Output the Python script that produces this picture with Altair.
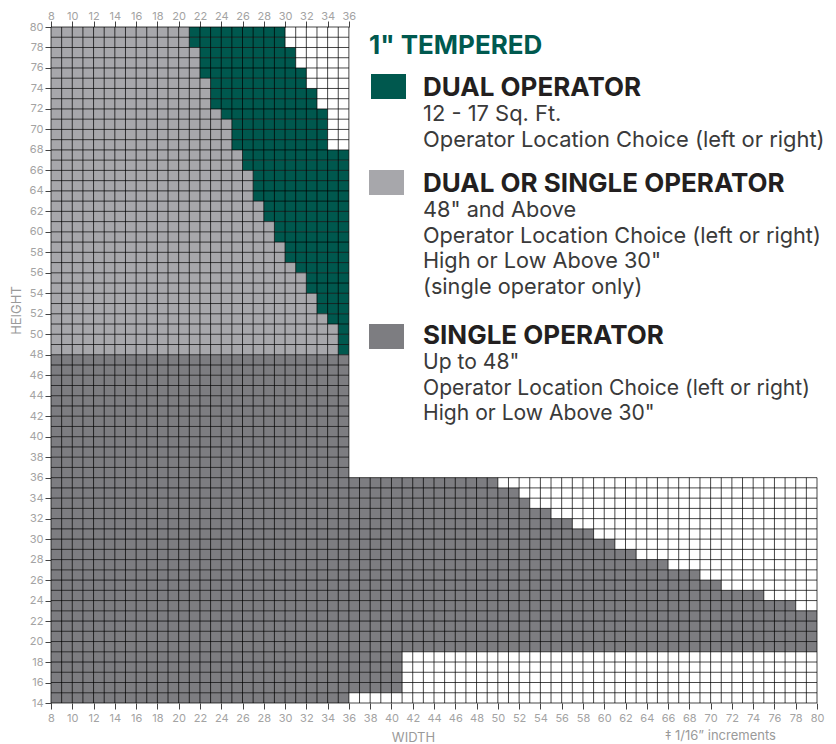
import altair as alt
import pandas as pd

# ---------------- data ----------------
# rows are identified by their lower edge (height), cells are 1" wide / 1" tall
upper_rows = [79, 78, 77, 76, 75, 74, 73, 72, 71, 70, 69, 68, 67, 66, 65, 64,
              63, 62, 61, 60, 59, 58, 57, 56, 55, 54, 53, 52, 51, 50, 49, 48]
# width where "dual or single operator" (light gray) ends in each upper row
light_gray_end = [21, 21, 22, 22, 22, 23, 23, 23, 24, 25, 25, 25, 26, 26, 27, 27,
                  27, 28, 28, 29, 29, 30, 30, 31, 32, 32, 33, 33, 34, 35, 35, 35]
# width where "dual operator" (green) ends in each upper row
green_end = [30, 30, 31, 31, 32, 32, 33, 33, 34, 34, 34, 34, 36, 36, 36, 36,
             36, 36, 36, 36, 36, 36, 36, 36, 36, 36, 36, 36, 36, 36, 36, 36]

lower_rows = [47, 46, 45, 44, 43, 42, 41, 40, 39, 38, 37, 36, 35, 34, 33, 32, 31,
              30, 29, 28, 27, 26, 25, 24, 23, 22, 21, 20, 19, 18, 17, 16, 15, 14]
# width where "single operator" (dark gray) ends in each lower row
dark_gray_end = [36, 36, 36, 36, 36, 36, 36, 36, 36, 36, 36, 36, 50, 52, 53, 55, 57,
                 59, 61, 63, 66, 69, 71, 75, 78, 80, 80, 80, 80, 41, 41, 41, 41, 36]

width_min, width_max = 8, 80
height_min, height_max = 14, 80
grid_split = 36          # grid above this height only reaches this width

x_ticks_bottom = list(range(8, 81, 2))
x_ticks_top = list(range(8, 37, 2))
y_ticks = list(range(14, 81, 2))

categories = ["DUAL OPERATOR", "DUAL OR SINGLE OPERATOR", "SINGLE OPERATOR"]
cat_colors = ["#00584e", "#a7a7ab", "#7d7d81"]

legend_title = "1\" TEMPERED"
legend_body = [
    ["12 - 17 Sq. Ft.", "Operator Location Choice (left or right)"],
    ["48\" and Above", "Operator Location Choice (left or right)",
     "High or Low Above 30\"", "(single operator only)"],
    ["Up to 48\"", "Operator Location Choice (left or right)", "High or Low Above 30\""],
]
footnote = "\u2021 1/16\u201d increments"

# ---------------- build tables ----------------
segs = []
for y, le, ge in zip(upper_rows, light_gray_end, green_end):
    segs.append(dict(x0=width_min, x1=le, y0=y, y1=y + 1, cat=categories[1]))
    segs.append(dict(x0=le, x1=ge, y0=y, y1=y + 1, cat=categories[0]))
for y, de in zip(lower_rows, dark_gray_end):
    segs.append(dict(x0=width_min, x1=de, y0=y, y1=y + 1, cat=categories[2]))
segs_df = pd.DataFrame(segs)

vl = []
for x in range(width_min, width_max + 1):
    vl.append(dict(x=x, y0=height_min, y1=height_max if x <= grid_split else grid_split))
vl_df = pd.DataFrame(vl)
hl = []
for y in range(height_min, height_max + 1):
    hl.append(dict(y=y, x0=width_min, x1=width_max if y <= grid_split else grid_split))
hl_df = pd.DataFrame(hl)

FONT = "Inter"
LABEL_COLOR = "#a3a3a3"
TITLE_COLOR = "#9a9a9a"

xs = alt.Scale(domain=[width_min, width_max], nice=False, zero=False)
ys = alt.Scale(domain=[height_min, height_max], nice=False, zero=False)

common_axis = dict(grid=False, domain=False, labelFont=FONT, labelFontSize=11,
                   labelColor=LABEL_COLOR, tickColor="#444444", tickSize=6,
                   labelFlush=False, labelOverlap=False, format="d")

fills = alt.Chart(segs_df).mark_rect(strokeWidth=0).encode(
    x=alt.X("x0:Q", scale=xs, axis=alt.Axis(orient="bottom", values=x_ticks_bottom,
            title="WIDTH", titleFont=FONT, titleFontSize=13, titleFontWeight="normal",
            titleColor=TITLE_COLOR, titleX=362, titleY=38, titleBaseline="alphabetic",
            labelPadding=3, **common_axis)),
    x2="x1:Q",
    y=alt.Y("y0:Q", scale=ys, axis=alt.Axis(orient="left", values=y_ticks,
            title="HEIGHT", titleFont=FONT, titleFontSize=13, titleFontWeight="normal",
            titleColor=TITLE_COLOR, titleX=-31, titleY=283, titleAngle=270,
            titleBaseline="alphabetic", labelPadding=2, **common_axis)),
    y2="y1:Q",
    color=alt.Color("cat:N", scale=alt.Scale(domain=categories, range=cat_colors), legend=None),
)

vlines = alt.Chart(vl_df).mark_rule(color="#000000", opacity=0.72, strokeWidth=1).encode(
    x=alt.X("x:Q", scale=xs, axis=alt.Axis(orient="top", values=x_ticks_top, title=None,
            labelPadding=2, labelBaseline="alphabetic", **common_axis)),
    y=alt.Y("y0:Q", scale=ys, axis=None),
    y2="y1:Q",
)
hlines = alt.Chart(hl_df).mark_rule(color="#000000", opacity=0.72, strokeWidth=1).encode(
    y=alt.Y("y:Q", scale=ys, axis=None),
    x=alt.X("x0:Q", scale=xs, axis=None),
    x2="x1:Q",
)

dummy = pd.DataFrame({"a": [0]})
layers = [fills, vlines, hlines]

layers.append(alt.Chart(dummy).mark_text(font=FONT, fontSize=26, fontWeight="bold",
              color="#00594f", align="left", baseline="alphabetic").encode(
    x=alt.value(318), y=alt.value(26.5), text=alt.value(legend_title)))

sq_y = [47, 143, 297]
sq_x = [320, 318, 318]
head_y = [69, 165, 317]
body_size = [21.9, 21.7, 21.1]
for i in range(3):
    layers.append(alt.Chart(dummy).mark_rect(color=cat_colors[i]).encode(
        x=alt.value(sq_x[i]), x2=alt.value(sq_x[i] + 35),
        y=alt.value(sq_y[i]), y2=alt.value(sq_y[i] + 25)))
    layers.append(alt.Chart(dummy).mark_text(font=FONT, fontSize=26, fontWeight="bold",
                  color="#231f20", align="left", baseline="alphabetic").encode(
        x=alt.value(372), y=alt.value(head_y[i]), text=alt.value(categories[i])))
    layers.append(alt.Chart(dummy).mark_text(font=FONT, fontSize=body_size[i], color="#3a3a3a",
                  align="left", baseline="alphabetic", lineHeight=25.6).encode(
        x=alt.value(372), y=alt.value(head_y[i] + 25), text=alt.value(legend_body[i])))

layers.append(alt.Chart(dummy).mark_text(font=FONT, fontSize=13, color=TITLE_COLOR,
              align="left", baseline="alphabetic").encode(
    x=alt.value(614), y=alt.value(713), text=alt.value(footnote)))

chart = alt.layer(*layers).resolve_axis(x="independent", y="independent").properties(
    width=766, height=676,
    autosize=alt.AutoSizeParams(type="none"),
    padding={"left": 43, "top": 19, "right": 11, "bottom": 41},
).configure_view(stroke=None)

chart.save("out.html", embed_options={"renderer": "svg", "actions": False})
